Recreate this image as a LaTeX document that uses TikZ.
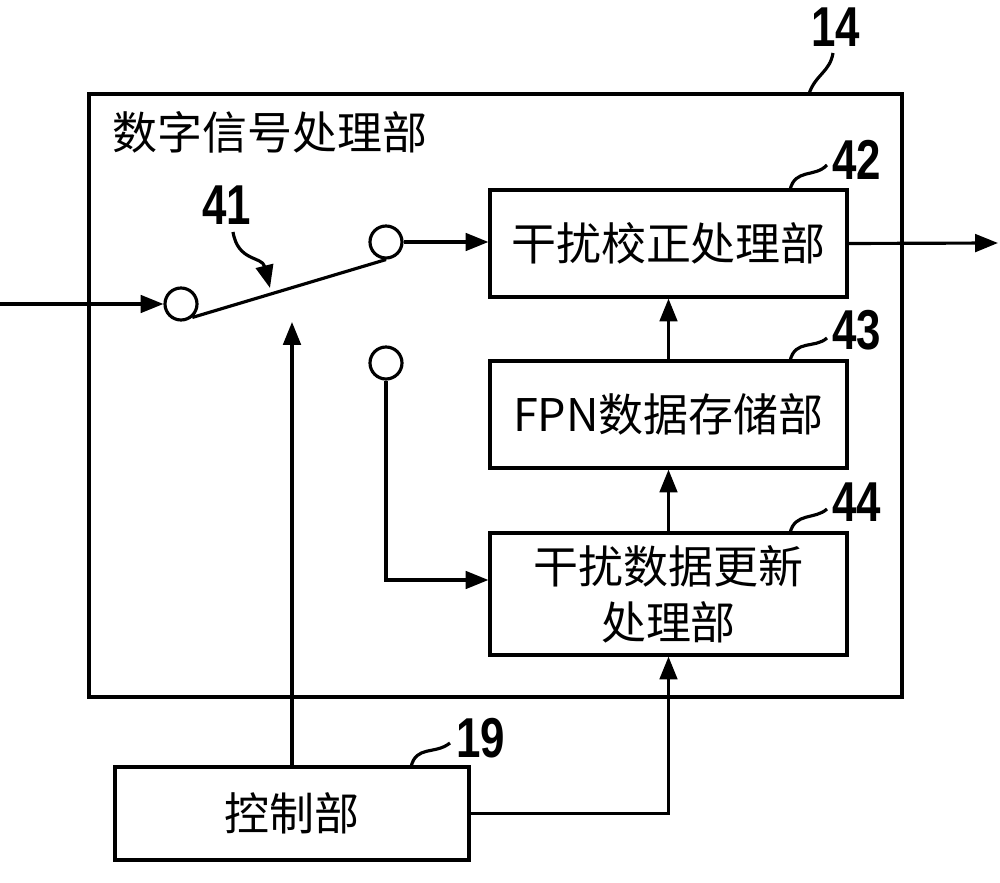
\documentclass[tikz,border=0pt]{standalone}
\usepackage{fontspec}
\usetikzlibrary{calc,arrows.meta}
\newfontfamily\cjk{Noto Sans CJK SC}
\newfontfamily\numfont[FakeStretch=0.78]{Liberation Sans}

\begin{document}
\begin{tikzpicture}[x=0.1mm,y=-0.1mm,line width=0.9pt,
    >={Triangle[length=6.5pt,width=5pt]},
    txt/.style={font=\cjk\fontsize{12.8}{16}\selectfont, align=center, inner sep=0pt},
    blk/.style={txt, draw},
    sw/.style={draw, circle, minimum size=3.2mm, inner sep=0pt},
    ref/.style={font=\numfont\bfseries\fontsize{16}{16}\selectfont, inner sep=0pt}]
            \useasboundingbox (0,0) rectangle (1000,883);
            % blocks
            \node[blk, minimum width=81.3mm, minimum height=60.3mm] (dsp) at (495.5,395.5) {};
            \node[txt, anchor=west] (title) at (111,132) {数字信号处理部};
            \node[blk, minimum width=35.7mm, minimum height=10.7mm] (corr) at (668.5,243.5) {干扰校正处理部};
            \node[blk, minimum width=35.7mm, minimum height=10.7mm] (fpn) at (668.5,414.5) {FPN数据存储部};
            \node[blk, minimum width=35.7mm, minimum height=12.2mm] (upd) at (668.5,594) {干扰数据更新\\处理部};
            \node[blk, minimum width=35.4mm, minimum height=9.3mm] (ctrl) at (292,813.5) {控制部};
            % switch
            \node[sw] (sin) at (181,304) {};
            \node[sw] (sup) at (386,242) {};
            \node[sw] (sdn) at (386,363) {};
            \coordinate (in) at (0,304);
            \coordinate (out) at (998,243);
            \coordinate (lever) at (292,322);
            \draw[->] (in) -- (sin.west);
            \draw (sin.-50) -- (sup.south);
            \draw[->] (sup.east) -- (sup.east -| corr.west);
            \draw[->] (corr.east) -- (out);
            \draw[->] (fpn.north) -- (corr.south);
            \draw[->] (upd.north) -- (fpn.south);
            \draw[->] (sdn.south) |- ($(upd.west)+(0,-14)$);
            \draw[->] (ctrl.north) -- (lever);
            \draw[->] (ctrl.east) -| (upd.south);
            % reference numerals
            \node[ref] (l14) at (836,27) {14};
            \node[ref] (l41) at (227,205) {41};
            \node[ref] (l42) at (857,160) {42};
            \node[ref] (l43) at (857,330) {43};
            \node[ref] (l44) at (857,502) {44};
            \node[ref] (l19) at (481,738) {19};
            \draw (809,94) .. controls (815,75) and (830,72) .. (833,53);
            \draw (790,190) .. controls (795,168) and (815,178) .. (827,165);
            \draw (790,361) .. controls (795,339) and (815,349) .. (827,338);
            \draw (790,533) .. controls (795,512) and (815,520) .. (827,509);
            \draw (411,767) .. controls (416,745) and (435,755) .. (450,743);
            \draw[->] (233,232) .. controls (238,262) and (262,256) .. (270,288);
        \end{tikzpicture}
\end{document}
